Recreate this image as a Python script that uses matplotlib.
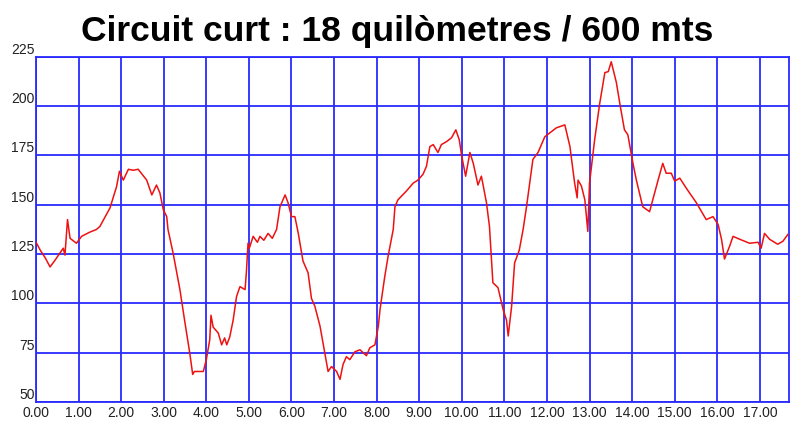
import matplotlib
matplotlib.use("Agg")
import matplotlib.pyplot as plt

plt.rcParams["font.family"] = ["Liberation Sans", "DejaVu Sans"]

# distance (km) and altitude (m)
dist = [0.00, 0.10, 0.22, 0.33, 0.45, 0.64, 0.68, 0.74, 0.80, 0.95, 1.07, 1.25,
        1.42, 1.50, 1.74, 1.81, 1.89, 1.96, 2.05, 2.17, 2.28, 2.40, 2.60, 2.72,
        2.83, 2.91, 2.99, 3.07, 3.10, 3.22, 3.38, 3.50, 3.61, 3.68, 3.72, 3.93,
        4.00, 4.08, 4.11, 4.16, 4.28, 4.36, 4.43, 4.48, 4.55, 4.63, 4.71, 4.79,
        4.91, 4.94, 4.98, 5.01, 5.10, 5.20, 5.26, 5.35, 5.45, 5.55, 5.65, 5.73,
        5.85, 5.92, 6.00, 6.08, 6.16, 6.27, 6.39, 6.47, 6.55, 6.67, 6.78, 6.86,
        6.94, 7.06, 7.14, 7.21, 7.29, 7.37, 7.49, 7.61, 7.76, 7.84, 7.96, 8.04,
        8.08, 8.19, 8.27, 8.39, 8.43, 8.50, 8.70, 8.86, 8.97, 9.09, 9.17, 9.25,
        9.33, 9.44, 9.52, 9.64, 9.76, 9.86, 9.94, 10.00, 10.09, 10.19, 10.27,
        10.38, 10.46, 10.58, 10.65, 10.73, 10.85, 10.97, 11.05, 11.09, 11.17,
        11.24, 11.35, 11.44, 11.52, 11.67, 11.79, 11.95, 12.22, 12.42, 12.54,
        12.65, 12.71, 12.73, 12.81, 12.89, 12.96, 13.00, 13.12, 13.24, 13.36,
        13.44, 13.51, 13.63, 13.71, 13.82, 13.90, 14.02, 14.10, 14.25, 14.41,
        14.61, 14.72, 14.80, 14.92, 15.00, 15.12, 15.27, 15.51, 15.74, 15.90,
        16.02, 16.10, 16.17, 16.29, 16.37, 16.53, 16.76, 16.96, 17.03, 17.11,
        17.23, 17.42, 17.54, 17.66]
alt = [131, 127, 123, 118.5, 122, 128, 124.5, 142.5, 133, 130.5, 134, 136,
       137.5, 139, 148.5, 153.5, 159, 167, 162.5, 168, 167.5, 168, 162.5, 155,
       160, 156, 147.5, 144, 137.5, 125.5, 107, 90, 75, 64, 65.5, 65.5,
       71.5, 81.5, 94, 88, 85, 79, 82.5, 79, 83, 91.5, 103.5, 108.5,
       107, 115.5, 130.5, 128, 134, 131, 134, 132, 135.5, 133, 137.5, 149,
       155, 151, 144, 144, 135.5, 121.5, 115.5, 102.5, 98.5, 88.5, 75, 65.5,
       68, 65.5, 61.5, 69, 73, 71.5, 75.5, 76.5, 73.5, 77.5, 79, 88.5,
       97, 113.5, 124, 137.5, 149, 152.5, 157, 161, 162.5, 165.5, 169.5, 179.5,
       180.5, 176.5, 180.5, 182, 184, 188, 183, 174.5, 164.5, 176.5, 171,
       160, 164.5, 151, 139, 110.5, 108, 97, 91.5, 83.5, 98.5,
       120.5, 127, 137.5, 149, 173, 176.5, 184.5, 189, 190.5, 179.5,
       161, 153.5, 162.5, 159.5, 152.5, 136.5, 161, 183, 201.5, 217,
       217.5, 222.5, 212, 201.5, 188, 185.5, 171, 162.5, 149, 146.5,
       162.5, 171, 166, 166, 162, 163.5, 158.5, 151, 142.5, 144,
       140, 132.5, 122.5, 129, 134, 132.5, 130.5, 131, 128, 135.5,
       132.5, 130, 131.5, 135]

yticks = [50, 75, 100, 125, 150, 175, 200, 225]
xticks = list(range(0, 18))
xlabels = ["%.2f" % v for v in xticks]

grid_col = "#2a2aff"

fig = plt.figure(figsize=(8, 4.21), dpi=100)
ax = fig.add_axes([0.045, 0.045, 0.941, 0.82])

ax.plot(dist, alt, color="#ee1111", lw=1.1, zorder=3)

ax.set_xlim(0, 17.68)
ax.set_ylim(50, 225)
ax.set_xticks(xticks)
ax.set_xticklabels(xlabels)
ax.set_yticks(yticks)
ax.grid(True, color=grid_col, lw=1.3)
for s in ax.spines.values():
    s.set_color(grid_col)
    s.set_linewidth(1.3)
ax.tick_params(length=0, labelsize=10, labelcolor="#222222")
ax.tick_params(axis="y", pad=1)
ax.tick_params(axis="x", pad=3)
for lbl in ax.get_yticklabels():
    lbl.set_va("bottom")

fig.text(0.497, 0.925, "Circuit curt : 18 quilòmetres / 600 mts",
         ha="center", va="center", fontsize=25.5, fontweight="bold",
         color="black")

fig.savefig("out.png", dpi=100)
